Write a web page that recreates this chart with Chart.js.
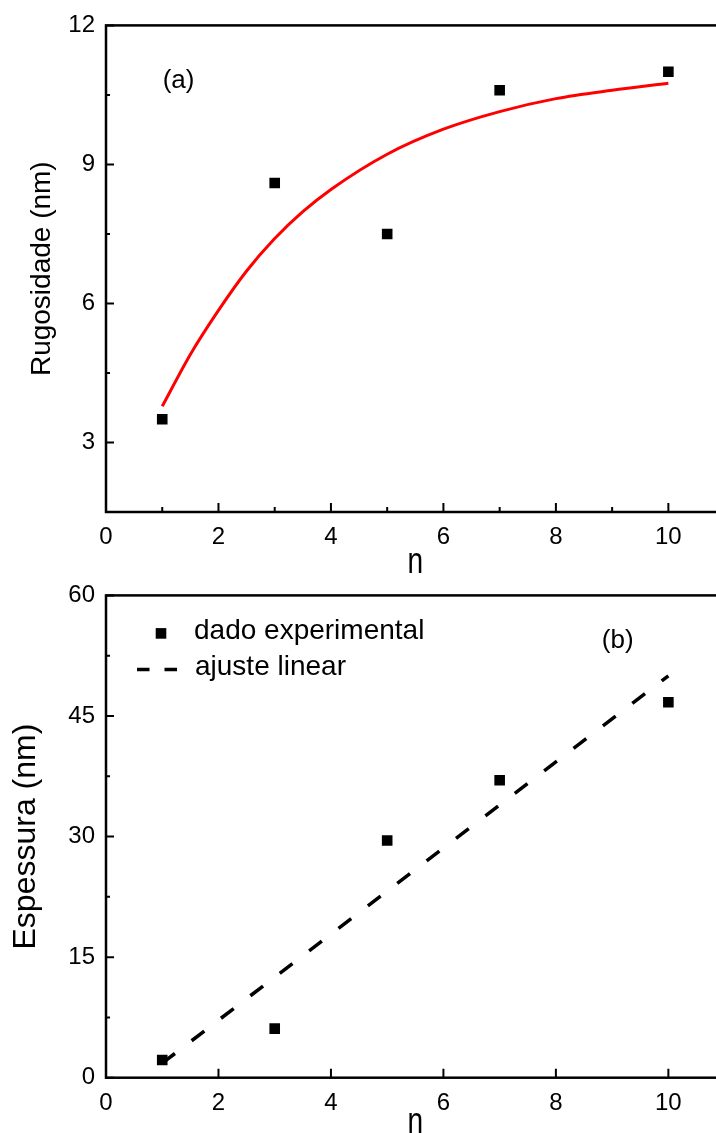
<!DOCTYPE html>
<html>
<head>
<meta charset="utf-8">
<script src="https://cdn.jsdelivr.net/npm/chart.js@4"></script>
<style>
html, body { margin: 0; padding: 0; background: #fff; overflow: hidden; width: 716px; height: 1133px; }
canvas { position: absolute; left: 0; }
#topChart { top: 0; }
#botChart { top: 570px; }
</style>
</head>
<body>
<canvas id="topChart" width="740" height="582"></canvas>
<canvas id="botChart" width="740" height="563"></canvas>
<script>
// number of cycles
var nValues = [1, 3, 5, 7, 10];
// (a) roughness in nm
var rugosidade = [3.5, 8.6, 7.5, 10.6, 11.0];
// red fit curve
var fitN = [1, 1.5, 2, 2.5, 3, 3.5, 4, 5, 6, 7, 8, 9, 10];
var fitRugosidade = [3.78, 4.9, 5.85, 6.7, 7.4, 7.98, 8.46, 9.22, 9.76, 10.14, 10.42, 10.6, 10.75];
// (b) thickness in nm
var espessura = [2.2, 6.1, 29.5, 37.0, 46.7];
// dashed linear fit
var linearN = [1, 10];
var linearEspessura = [1.8, 50.0];

// ticks
var xTicks = [0, 2, 4, 6, 8, 10];
var xMinorTop = [1, 3, 5, 7, 9];
var yTicksTop = [3, 6, 9, 12];
var yMinorTop = [4.5, 7.5, 10.5];
var yTicksBot = [0, 15, 30, 45, 60];
var yMinorBot = [7.5, 22.5, 37.5, 52.5];

var FONT = "Arial, 'Liberation Sans', sans-serif";

function toXY(xs, ys) {
	return xs.map(function(x, i) { return {x: x, y: ys[i]}; });
}

// frame, inward ticks, panel letter, x title and legend
var framePlugin = {
	id: 'frame',
	afterDatasetsDraw: function(chart, args, opts) {
		var ctx = chart.ctx, a = chart.chartArea;
		var xs = chart.scales.x, ys = chart.scales.y;
		ctx.save();
		ctx.strokeStyle = '#000';
		ctx.lineWidth = 2.5;
		ctx.strokeRect(a.left, a.top, a.right - a.left, a.bottom - a.top);

		ctx.lineWidth = 2;
		ctx.beginPath();
		opts.xMajor.forEach(function(v) {
			var p = xs.getPixelForValue(v);
			ctx.moveTo(p, a.bottom); ctx.lineTo(p, a.bottom - 9);
		});
		opts.xMinor.forEach(function(v) {
			var p = xs.getPixelForValue(v);
			ctx.moveTo(p, a.bottom); ctx.lineTo(p, a.bottom - 5);
		});
		opts.yMajor.forEach(function(v) {
			var p = ys.getPixelForValue(v);
			ctx.moveTo(a.left, p); ctx.lineTo(a.left + 8, p);
		});
		opts.yMinor.forEach(function(v) {
			var p = ys.getPixelForValue(v);
			ctx.moveTo(a.left, p); ctx.lineTo(a.left + 4, p);
		});
		ctx.stroke();

		// panel letter
		ctx.fillStyle = '#000';
		ctx.font = '26px ' + FONT;
		ctx.textAlign = 'center';
		ctx.textBaseline = 'middle';
		ctx.fillText(opts.panel.text, xs.getPixelForValue(opts.panel.x), ys.getPixelForValue(opts.panel.y));

		// x title "n" (narrow)
		ctx.save();
		ctx.translate((a.left + a.right) / 2, a.bottom + opts.titleBaseline);
		ctx.scale(0.78, 1);
		ctx.font = '36px ' + FONT;
		ctx.textBaseline = 'alphabetic';
		ctx.fillText('n', 0, 0);
		ctx.restore();

		if (opts.legend) {
			var ds = chart.data.datasets;
			ctx.font = '28px ' + FONT;
			ctx.textAlign = 'left';
			ctx.textBaseline = 'middle';
			var y1 = a.top + 36, y2 = a.top + 72;
			ctx.fillRect(a.left + 55 - 5.3, y1 - 5.3 + 2, 10.6, 10.6);
			ctx.fillText(ds[0].label, a.left + 88, y1);
			ctx.lineWidth = 3.5;
			ctx.setLineDash([12.5, 15]);
			ctx.beginPath();
			ctx.moveTo(a.left + 31, y2 + 2); ctx.lineTo(a.left + 71, y2 + 2);
			ctx.stroke();
			ctx.setLineDash([]);
			ctx.fillText(ds[1].label, a.left + 89, y2);
		}
		ctx.restore();
	}
};

function xScale(height) {
	return {
		type: 'linear', min: 0, max: 11,
		afterBuildTicks: function(s) { s.ticks = xTicks.map(function(v) { return {value: v}; }); },
		afterFit: function(s) { s.height = height; },
		grid: {display: false, drawTicks: false},
		border: {display: false},
		ticks: {font: {family: FONT, size: 24}, color: '#000', padding: 11}
	};
}

function yScale(min, max, ticks, title, titleSize, titlePad) {
	return {
		type: 'linear', min: min, max: max,
		afterBuildTicks: function(s) { s.ticks = ticks.map(function(v) { return {value: v}; }); },
		afterFit: function(s) { s.width = 106; },
		grid: {display: false, drawTicks: false},
		border: {display: false},
		ticks: {font: {family: FONT, size: 24}, color: '#000', padding: 11},
		title: {display: true, text: title, color: '#000', font: {family: FONT, size: titleSize}, padding: {top: titlePad, bottom: 0}}
	};
}

new Chart(document.getElementById('topChart'), {
	type: 'scatter',
	data: {
		datasets: [{
			label: 'Rugosidade',
			data: toXY(nValues, rugosidade),
			pointStyle: 'rect', pointRadius: 7.5, backgroundColor: '#000', borderWidth: 0
		}, {
			label: 'ajuste',
			data: toXY(fitN, fitRugosidade),
			showLine: true, borderColor: '#ff0000', borderWidth: 3,
			pointRadius: 0, cubicInterpolationMode: 'monotone', fill: false
		}]
	},
	options: {
		responsive: false, animation: false, devicePixelRatio: 1,
		layout: {padding: {top: 22, left: 0, right: 15.4, bottom: 0}},
		scales: {
			x: xScale(70),
			y: yScale(1.5, 12, yTicksTop, 'Rugosidade (nm)', 28, 25)
		},
		plugins: {
			legend: {display: false}, tooltip: {enabled: false},
			frame: {
				xMajor: xTicks, xMinor: xMinorTop, yMajor: yTicksTop, yMinor: yMinorTop,
				panel: {text: '(a)', x: 1.29, y: 10.8}, titleBaseline: 61, legend: false
			}
		}
	},
	plugins: [framePlugin]
});

new Chart(document.getElementById('botChart'), {
	type: 'scatter',
	data: {
		datasets: [{
			label: 'dado experimental',
			data: toXY(nValues, espessura),
			pointStyle: 'rect', pointRadius: 7.5, backgroundColor: '#000', borderWidth: 0
		}, {
			label: 'ajuste linear',
			data: toXY(linearN, linearEspessura),
			showLine: true, borderColor: '#000', borderWidth: 3.5, borderDash: [16, 21],
			pointRadius: 0, fill: false
		}]
	},
	options: {
		responsive: false, animation: false, devicePixelRatio: 1,
		layout: {padding: {top: 20, left: 0, right: 15.4, bottom: 0}},
		scales: {
			x: xScale(55.3),
			y: yScale(0, 60, yTicksBot, 'Espessura (nm)', 32, 7)
		},
		plugins: {
			legend: {display: false}, tooltip: {enabled: false},
			frame: {
				xMajor: xTicks, xMinor: [], yMajor: yTicksBot, yMinor: yMinorBot,
				panel: {text: '(b)', x: 9.1, y: 54.3}, titleBaseline: 55.3, legend: true
			}
		}
	},
	plugins: [framePlugin]
});
</script>
</body>
</html>
